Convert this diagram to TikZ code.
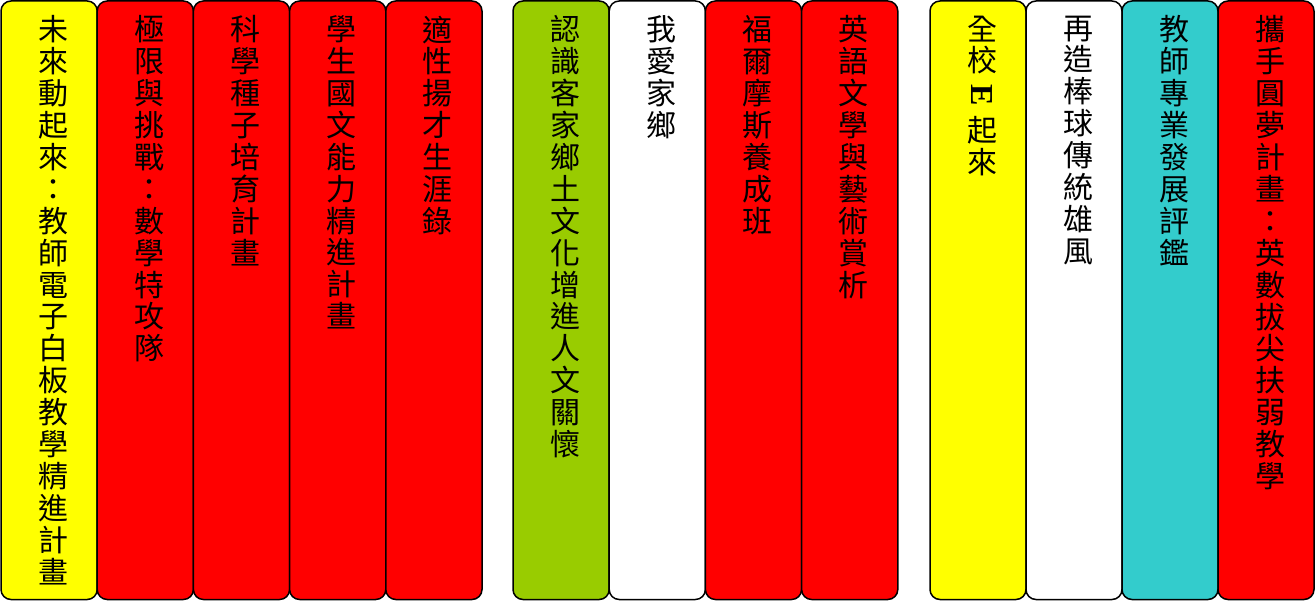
\documentclass[tikz,border=0pt]{standalone}
\usepackage{fontspec}
\newfontfamily\cjk{Noto Sans CJK TC}
\newfontfamily\lser{Liberation Serif}
\definecolor{cyel}{HTML}{FFFF00}
\definecolor{cred}{HTML}{FF0000}
\definecolor{cgrn}{HTML}{99CC00}
\definecolor{cteal}{HTML}{33CCCC}
\tikzset{
  box/.style={draw=black, line width=1.5pt, rounded corners=10pt, minimum width=96.2pt,
    minimum height=598.5pt, inner sep=0pt, outer sep=0pt, anchor=north west},
  vtext/.style={anchor=north, align=center, inner sep=0pt, text=black,
    font=\cjk\fontsize{30}{31.9}\selectfont},
}
\begin{document}
\begin{tikzpicture}[x=1pt,y=1pt]
\useasboundingbox (0,0) rectangle (1315,-601);
% group 1
\node[box, fill=cyel] (c1) at (1,-1) {};
\node[box, fill=cred] (c2) at (97.2,-1) {};
\node[box, fill=cred] (c3) at (193.4,-1) {};
\node[box, fill=cred] (c4) at (289.6,-1) {};
\node[box, fill=cred] (c5) at (385.8,-1) {};
% group 2
\node[box, fill=cgrn] (c6) at (513,-1) {};
\node[box, fill=white] (c7) at (609.2,-1) {};
\node[box, fill=cred] (c8) at (705.4,-1) {};
\node[box, fill=cred] (c9) at (801.6,-1) {};
% group 3
\node[box, fill=cyel, minimum width=96pt] (c10) at (930,-1) {};
\node[box, fill=white, minimum width=96pt] (c11) at (1026,-1) {};
\node[box, fill=cteal, minimum width=96pt] (c12) at (1122,-1) {};
\node[box, fill=cred, minimum width=96pt] (c13) at (1218,-1) {};
% texts
\tikzset{tshift/.style={yshift=-14.5pt,xshift=4pt}}
\node[vtext] (t1) at ([tshift]c1.north) {未\\來\\動\\起\\來\\：\\教\\師\\電\\子\\白\\板\\教\\學\\精\\進\\計\\畫};
\node[vtext] (t2) at ([tshift]c2.north) {極\\限\\與\\挑\\戰\\：\\數\\學\\特\\攻\\隊};
\node[vtext] (t3) at ([tshift]c3.north) {科\\學\\種\\子\\培\\育\\計\\畫};
\node[vtext] (t4) at ([tshift]c4.north) {學\\生\\國\\文\\能\\力\\精\\進\\計\\畫};
\node[vtext] (t5) at ([tshift]c5.north) {適\\性\\揚\\才\\生\\涯\\錄};
\node[vtext] (t6) at ([tshift]c6.north) {認\\識\\客\\家\\鄉\\土\\文\\化\\增\\進\\人\\文\\關\\懷};
\node[vtext] (t7) at ([tshift]c7.north) {我\\愛\\家\\鄉};
\node[vtext] (t8) at ([tshift]c8.north) {福\\爾\\摩\\斯\\養\\成\\班};
\node[vtext] (t9) at ([tshift]c9.north) {英\\語\\文\\學\\與\\藝\\術\\賞\\析};
\node[vtext] (t10) at ([tshift]c10.north) {全\\校\\[2pt]\rotatebox[origin=c]{-90}{\lser\bfseries\fontsize{32}{32}\selectfont E}\\[4pt]起\\來};
\node[vtext] (t11) at ([tshift]c11.north) {再\\造\\棒\\球\\傳\\統\\雄\\風};
\node[vtext] (t12) at ([tshift]c12.north) {教\\師\\專\\業\\發\\展\\評\\鑑};
\node[vtext] (t13) at ([tshift]c13.north) {攜\\手\\圓\\夢\\計\\畫\\：\\英\\數\\拔\\尖\\扶\\弱\\教\\學};
\end{tikzpicture}
\end{document}
